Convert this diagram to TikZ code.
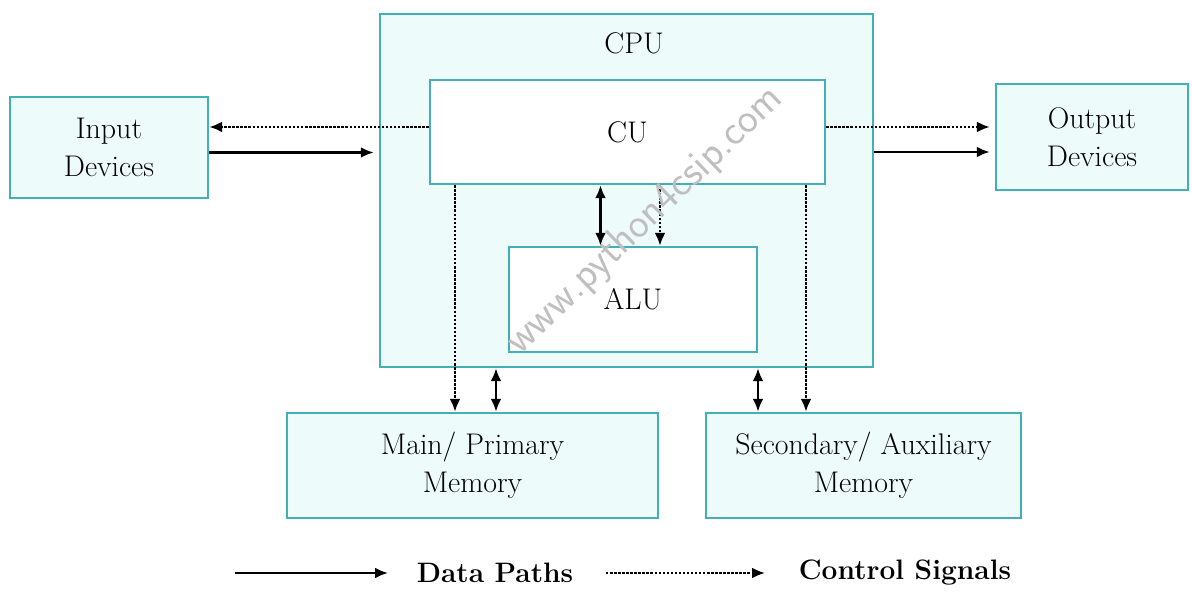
\documentclass[tikz,border=0pt]{standalone}
\usetikzlibrary{arrows.meta}
\definecolor{boxline}{RGB}{66,176,182}
\definecolor{boxfill}{RGB}{238,251,251}
\begin{document}
\begin{tikzpicture}[
  >={Latex[length=2.6mm,width=2.2mm]},
  unit/.style={draw=boxline, line width=1.4pt, fill=boxfill, inner sep=0pt, align=center, font=\fontsize{17}{21.5}\selectfont},
  inner/.style={unit, fill=white},
  data/.style={line width=1.4pt, ->},
  ctrl/.style={line width=1.3pt, dash pattern=on 1.4pt off 0.9pt, ->},
  legend/.style={font=\bfseries\fontsize{16}{18}\selectfont}
]
\useasboundingbox (0,0) rectangle (23.84,11.84);
% boxes
\node[unit, minimum width=9.86cm, minimum height=7.06cm] (cpu) at (12.53,8.03) {};
\node[font=\fontsize{17}{21.5}\selectfont] (cpulbl) at (12.68,10.98) {CPU};
\node[inner, minimum width=7.9cm, minimum height=2.08cm] (cu) at (12.55,9.2) {CU};
\node[inner, minimum width=4.96cm, minimum height=2.1cm] (alu) at (12.66,5.85) {ALU};
\node[unit, minimum width=3.96cm, minimum height=2.02cm] (inp) at (2.18,8.89) {Input\\Devices};
\node[unit, minimum width=3.84cm, minimum height=2.12cm] (out) at (21.84,9.1) {Output\\Devices};
\node[unit, minimum width=7.42cm, minimum height=2.1cm] (main) at (9.45,2.53) {Main/ Primary\\Memory};
\node[unit, minimum width=6.3cm, minimum height=2.1cm] (sec) at (17.27,2.53) {Secondary/ Auxiliary\\Memory};
% input / output
\draw[ctrl] ([yshift=1mm]cu.west) -- ([yshift=1mm]cu.west -| inp.east);
\draw[data, shorten >=1mm] ([yshift=-1mm]inp.east) -- ([yshift=-1mm]inp.east -| cpu.west);
\draw[ctrl, shorten >=1mm] ([yshift=1mm]cu.east) -- ([yshift=1mm]cu.east -| out.west);
\draw[data, shorten >=1mm] ([yshift=-3mm]cpu.east |- out.west) -- ([yshift=-3mm]out.west);
% cu / alu
\draw[data, <->] ([xshift=-6.5mm]alu.north) -- ([xshift=-6.5mm]alu.north |- cu.south);
\draw[ctrl] ([xshift=5.4mm]alu.north |- cu.south) -- ([xshift=5.4mm]alu.north);
% memories
\draw[ctrl] ([xshift=-3.5mm]main.north |- cu.south) -- ([xshift=-3.5mm]main.north);
\draw[data, <->] ([xshift=4.7mm]main.north) -- ([xshift=4.7mm]main.north |- cpu.south);
\draw[data, <->] ([xshift=-21.1mm]sec.north) -- ([xshift=-21.1mm]sec.north |- cpu.south);
\draw[ctrl] ([xshift=-11.5mm]sec.north |- cu.south) -- ([xshift=-11.5mm]sec.north);
% legend
\coordinate (d1) at (4.7,0.38);
\coordinate (d2) at (7.76,0.38);
\coordinate (c1) at (12.12,0.38);
\coordinate (c2) at (15.3,0.38);
\draw[data] (d1) -- (d2);
\node[legend] (dp) at (9.9,0.38) {Data Paths};
\draw[ctrl] (c1) -- (c2);
\node[legend] (cs) at (18.1,0.38) {Control Signals};
% watermark
\node[rotate=44, text=gray!50, font=\sffamily\fontsize{24}{24}\selectfont] (wm) at (12.9,7.42) {www.python4csip.com};
\end{tikzpicture}
\end{document}
